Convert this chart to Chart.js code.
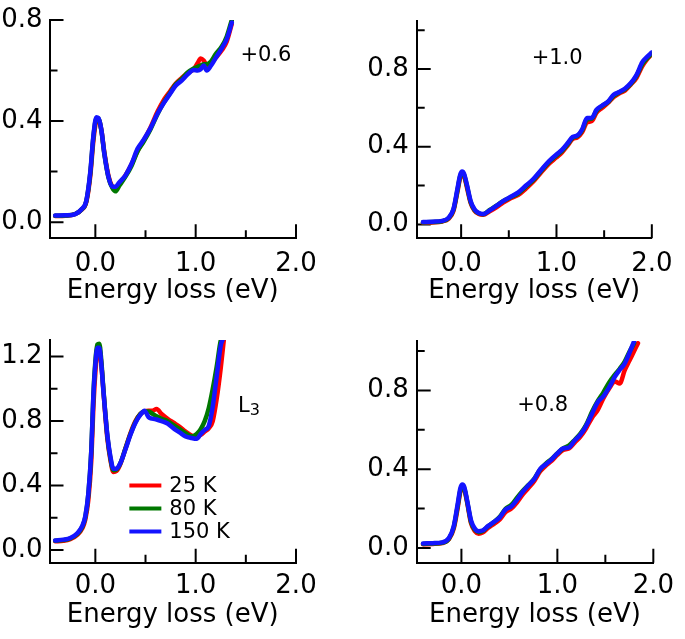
<!DOCTYPE html>
<html>
<head>
<meta charset="utf-8">
<title>RIXS low-energy spectra</title>
<script src="https://cdn.jsdelivr.net/npm/chart.js@4/dist/chart.umd.min.js"></script>
<style>
  html, body { margin: 0; padding: 0; background: #fff; }
  #wrap { position: relative; width: 685px; height: 639px; overflow: hidden; }
  #wrap canvas { position: absolute; }
</style>
</head>
<body>
<div id="wrap">
  <canvas id="c06" width="340" height="320" style="left:0;top:0"></canvas>
  <canvas id="c10" width="345" height="320" style="left:340px;top:0"></canvas>
  <canvas id="cL3" width="340" height="319" style="left:0;top:320px"></canvas>
  <canvas id="c08" width="345" height="319" style="left:340px;top:320px"></canvas>
</div>
<script>
// ---- data ----
const tempLabels = ['25 K', '80 K', '150 K'];
const xMajor = [0, 1, 2];
const xMinor = [0.5, 1.5];

// +0.6 panel
const eP06 = [-0.40,-0.30,-0.20,-0.14,-0.09,-0.05,-0.02,0.01,0.03,0.06,0.09,0.13,0.17,0.20,0.24,0.30,0.36,0.42,0.48,0.55,0.62,0.68,0.74,0.80,0.86,0.92,0.98,1.02,1.05,1.08,1.11,1.15,1.20,1.26,1.31,1.36];
const p06_25K = [0.024,0.025,0.032,0.048,0.080,0.185,0.320,0.400,0.405,0.365,0.275,0.185,0.138,0.128,0.150,0.185,0.228,0.282,0.322,0.375,0.438,0.482,0.515,0.548,0.570,0.590,0.605,0.630,0.648,0.640,0.622,0.628,0.650,0.680,0.715,0.785];
const p06_80K = [0.025,0.026,0.032,0.049,0.083,0.195,0.335,0.410,0.410,0.362,0.270,0.178,0.135,0.122,0.145,0.180,0.222,0.280,0.318,0.368,0.428,0.472,0.508,0.545,0.566,0.592,0.608,0.615,0.620,0.625,0.625,0.635,0.665,0.695,0.735,0.800];
const p06_150K = [0.026,0.027,0.032,0.050,0.085,0.200,0.340,0.415,0.412,0.365,0.270,0.180,0.140,0.140,0.158,0.185,0.230,0.290,0.325,0.372,0.430,0.470,0.505,0.540,0.560,0.585,0.602,0.600,0.605,0.620,0.600,0.618,0.650,0.688,0.725,0.790];

// +1.0 panel
const eP10 = [-0.40,-0.30,-0.20,-0.13,-0.08,-0.04,-0.01,0.01,0.03,0.06,0.10,0.14,0.18,0.23,0.30,0.37,0.44,0.52,0.60,0.68,0.76,0.84,0.92,1.00,1.06,1.12,1.17,1.22,1.27,1.32,1.37,1.42,1.48,1.54,1.60,1.66,1.72,1.78,1.84,1.90,1.95,2.00];
const p10_25K = [0.008,0.010,0.015,0.030,0.070,0.165,0.240,0.258,0.250,0.192,0.110,0.070,0.055,0.050,0.068,0.088,0.112,0.135,0.152,0.185,0.222,0.268,0.312,0.345,0.372,0.408,0.440,0.448,0.475,0.525,0.532,0.575,0.600,0.625,0.655,0.675,0.690,0.720,0.755,0.815,0.850,0.875];
const p10_80K = [0.010,0.012,0.016,0.033,0.076,0.172,0.248,0.265,0.256,0.200,0.115,0.074,0.058,0.052,0.074,0.096,0.120,0.140,0.160,0.195,0.230,0.276,0.320,0.355,0.380,0.415,0.446,0.455,0.485,0.540,0.545,0.585,0.610,0.630,0.662,0.680,0.696,0.724,0.765,0.825,0.855,0.880];
const p10_150K = [0.012,0.014,0.018,0.035,0.080,0.180,0.255,0.272,0.262,0.205,0.120,0.078,0.060,0.053,0.072,0.095,0.120,0.142,0.165,0.200,0.235,0.280,0.325,0.360,0.385,0.420,0.450,0.458,0.490,0.548,0.548,0.590,0.612,0.632,0.668,0.682,0.700,0.728,0.770,0.835,0.862,0.885];

// L3 panel
const eL3 = [-0.40,-0.32,-0.25,-0.18,-0.13,-0.10,-0.07,-0.04,-0.02,0.00,0.02,0.04,0.06,0.08,0.10,0.12,0.15,0.18,0.21,0.25,0.30,0.35,0.40,0.45,0.49,0.53,0.57,0.61,0.66,0.72,0.78,0.84,0.90,0.96,1.01,1.05,1.09,1.13,1.17,1.21,1.25,1.28];
const l3_25K = [0.055,0.058,0.068,0.095,0.135,0.190,0.310,0.560,0.880,1.100,1.225,1.240,1.150,0.990,0.830,0.690,0.560,0.485,0.490,0.535,0.630,0.725,0.800,0.845,0.860,0.865,0.865,0.875,0.845,0.815,0.790,0.765,0.735,0.710,0.705,0.715,0.735,0.755,0.800,0.940,1.130,1.300];
const l3_80K = [0.058,0.062,0.072,0.100,0.145,0.205,0.345,0.620,0.960,1.170,1.275,1.280,1.170,1.000,0.845,0.705,0.570,0.495,0.500,0.540,0.630,0.720,0.795,0.845,0.860,0.860,0.845,0.830,0.815,0.800,0.775,0.750,0.725,0.705,0.720,0.750,0.800,0.880,1.000,1.140,1.300,1.340];
const l3_150K = [0.060,0.065,0.075,0.105,0.150,0.210,0.350,0.620,0.950,1.150,1.255,1.255,1.150,0.990,0.840,0.710,0.580,0.505,0.505,0.540,0.625,0.715,0.790,0.840,0.865,0.825,0.815,0.810,0.800,0.785,0.755,0.730,0.705,0.695,0.690,0.720,0.745,0.770,0.890,1.080,1.270,1.320];

// +0.8 panel
const eP08 = [-0.40,-0.30,-0.20,-0.13,-0.08,-0.04,-0.01,0.01,0.03,0.06,0.10,0.14,0.18,0.22,0.28,0.34,0.40,0.46,0.52,0.58,0.64,0.70,0.76,0.82,0.88,0.94,1.00,1.06,1.12,1.18,1.24,1.30,1.36,1.42,1.48,1.54,1.60,1.65,1.70,1.75,1.80,1.84];
const p08_25K = [0.018,0.020,0.024,0.044,0.098,0.200,0.288,0.308,0.298,0.230,0.125,0.085,0.072,0.078,0.102,0.122,0.145,0.182,0.200,0.232,0.272,0.305,0.340,0.388,0.418,0.442,0.472,0.498,0.505,0.535,0.565,0.608,0.660,0.700,0.760,0.810,0.845,0.835,0.900,0.950,1.000,1.040];
const p08_80K = [0.020,0.022,0.026,0.047,0.105,0.210,0.295,0.312,0.302,0.235,0.132,0.092,0.080,0.085,0.110,0.132,0.158,0.198,0.218,0.255,0.290,0.320,0.352,0.398,0.428,0.452,0.480,0.505,0.520,0.548,0.580,0.625,0.690,0.745,0.790,0.840,0.880,0.910,0.945,0.995,1.040,null];
const p08_150K = [0.022,0.024,0.028,0.050,0.110,0.220,0.305,0.322,0.310,0.240,0.140,0.098,0.085,0.088,0.112,0.132,0.155,0.195,0.210,0.245,0.285,0.318,0.350,0.400,0.425,0.450,0.480,0.505,0.510,0.545,0.575,0.620,0.680,0.740,0.770,0.815,0.870,0.905,0.935,0.990,1.050,null];

// ---- styles ----
const FONT = '"DejaVu Sans", "Liberation Sans", sans-serif';
const INK = '#000';
const COLORS = ['rgb(255,0,0)', 'rgb(0,120,0)', 'rgb(20,20,255)'];

// inward tick marks, like the original plotting program
const inTicks = {
  id: 'inTicks',
  beforeDatasetsDraw(chart, args, opts) {
    const { ctx, chartArea: a, scales: { x, y } } = chart;
    ctx.save();
    ctx.strokeStyle = INK;
    ctx.lineWidth = 2;
    ctx.beginPath();
    const onX = (vals, len) => vals.forEach(v => {
      const px = x.getPixelForValue(v);
      ctx.moveTo(px, a.bottom); ctx.lineTo(px, a.bottom - len);
    });
    const onY = (vals, len) => vals.forEach(v => {
      const py = y.getPixelForValue(v);
      ctx.moveTo(a.left, py); ctx.lineTo(a.left + len, py);
    });
    onX(x.ticks.map(t => t.value), 14);
    onX(opts.xMinor || [], 8);
    onY(y.ticks.map(t => t.value), 14);
    onY(opts.yMinor || [], 8);
    ctx.stroke();
    ctx.restore();
  }
};

// panel labels (+0.6, L3 ...)
const notes = {
  id: 'notes',
  afterDatasetsDraw(chart, args, opts) {
    const { ctx, scales: { x, y } } = chart;
    (opts.items || []).forEach(n => {
      const px = x.getPixelForValue(n.x);
      const py = y.getPixelForValue(n.y);
      ctx.save();
      ctx.fillStyle = INK;
      ctx.textBaseline = 'alphabetic';
      ctx.textAlign = n.align || 'center';
      ctx.font = `${n.size}px ${FONT}`;
      ctx.fillText(n.text, px, py);
      if (n.sub) {
        const w = ctx.measureText(n.text).width;
        ctx.font = `${n.subSize}px ${FONT}`;
        ctx.textAlign = 'left';
        ctx.fillText(n.sub, px + w, py + n.subDrop);
      }
      ctx.restore();
    });
  }
};

// line legend drawn inside the L3 panel
const lineKey = {
  id: 'lineKey',
  afterDatasetsDraw(chart, args, opts) {
    if (!opts.show) return;
    const { ctx, scales: { x, y } } = chart;
    const x0 = x.getPixelForValue(opts.x);
    const y0 = y.getPixelForValue(opts.y);
    chart.data.datasets.forEach((ds, i) => {
      const yy = y0 + i * opts.gap;
      ctx.save();
      ctx.strokeStyle = ds.borderColor;
      ctx.lineWidth = 4;
      ctx.beginPath();
      ctx.moveTo(x0, yy); ctx.lineTo(x0 + opts.len, yy);
      ctx.stroke();
      ctx.fillStyle = INK;
      ctx.font = `21px ${FONT}`;
      ctx.textAlign = 'left';
      ctx.textBaseline = 'middle';
      ctx.fillText(ds.label, x0 + opts.len + 8, yy + 1);
      ctx.restore();
    });
  }
};

function makePanel (p) {
  const datasets = p.series.map((ys, i) => ({
    label: tempLabels[i],
    data: p.energy.map((e, j) => ({ x: e, y: ys[j] })).filter(d => d.y !== null),
    borderColor: COLORS[i],
    borderWidth: 4.5,
    pointRadius: 0,
    fill: false,
    order: p.series.length - i, // 150 K on top
    cubicInterpolationMode: 'monotone',
    borderCapStyle: 'round',
    borderJoinStyle: 'round'
  }));

  return new Chart(document.getElementById(p.id), {
    type: 'line',
    data: { datasets },
    plugins: [inTicks, notes, lineKey],
    options: {
      responsive: false,
      animation: false,
      events: [],
      layout: { padding: { left: 0, top: p.top, right: p.right, bottom: 0 } },
      scales: {
        x: {
          type: 'linear',
          min: p.xMin,
          max: 2.0,
          grid: { display: false, drawTicks: false },
          border: { display: true, color: INK, width: 2 },
          ticks: {
            autoSkip: false, maxRotation: 0, color: INK, padding: p.tickPad,
            font: { family: FONT, size: 26, lineHeight: 1 },
            callback: v => v.toFixed(1)
          },
          afterBuildTicks: s => { s.ticks = xMajor.map(v => ({ value: v })); },
          afterFit: s => { s.height = p.axisH; },
          title: {
            display: true, text: 'Energy loss (eV)', color: INK,
            font: { family: FONT, size: 26, lineHeight: 1 },
            padding: { top: 0, bottom: p.titlePad }
          }
        },
        y: {
          type: 'linear',
          min: p.yMin,
          max: p.yMax,
          grid: { display: false, drawTicks: false },
          border: { display: true, color: INK, width: 2 },
          ticks: {
            autoSkip: false, color: INK, padding: p.yPad,
            font: { family: FONT, size: 26, lineHeight: 1 },
            callback: v => v.toFixed(1)
          },
          afterBuildTicks: s => { s.ticks = p.yMajor.map(v => ({ value: v })); },
          afterFit: s => { s.width = p.axisW; }
        }
      },
      plugins: {
        legend: { display: false },
        tooltip: { enabled: false },
        inTicks: { xMinor, yMinor: p.yMinor },
        notes: { items: p.notes },
        lineKey: p.key || { show: false }
      }
    }
  });
}

makePanel({
  id: 'c06', energy: eP06, series: [p06_25K, p06_80K, p06_150K],
  xMin: -0.457, yMin: -0.064, yMax: 0.8,
  yMajor: [0, 0.4, 0.8], yMinor: [0.2, 0.6],
  axisW: 49.5, axisH: 81.7, top: 15, right: 44, tickPad: 12.5, titlePad: 15.5, yPad: 7,
  notes: [{ text: '+0.6', x: 1.70, y: 0.639, size: 21 }]
});

makePanel({
  id: 'c10', energy: eP10, series: [p10_25K, p10_80K, p10_150K],
  xMin: -0.466, yMin: -0.0716, yMax: 1.047,
  yMajor: [0, 0.4, 0.8], yMinor: [0.2, 0.6, 1.0],
  axisW: 76.7, axisH: 81.7, top: 15, right: 21.7, tickPad: 12.5, titlePad: 15.5, yPad: 8,
  notes: [{ text: '+1.0', x: 1.007, y: 0.825, size: 21 }]
});

makePanel({
  id: 'cL3', energy: eL3, series: [l3_25K, l3_80K, l3_150K],
  xMin: -0.457, yMin: -0.078, yMax: 1.303,
  yMajor: [0, 0.4, 0.8, 1.2], yMinor: [0.2, 0.6, 1.0],
  axisW: 49.5, axisH: 76.3, top: 18.3, right: 44, tickPad: 11, titlePad: 11, yPad: 7,
  notes: [{ text: 'L', x: 1.422, y: 0.857, size: 21, align: 'left', sub: '3', subSize: 16, subDrop: 3 }],
  key: { show: true, x: 0.339, y: 0.40, gap: 23, len: 32 }
});

makePanel({
  id: 'c08', energy: eP08, series: [p08_25K, p08_80K, p08_150K],
  xMin: -0.466, yMin: -0.0753, yMax: 1.051,
  yMajor: [0, 0.4, 0.8], yMinor: [0.2, 0.6, 1.0],
  axisW: 76.7, axisH: 76.3, top: 18.3, right: 21.7, tickPad: 11, titlePad: 11, yPad: 8,
  notes: [{ text: '+0.8', x: 0.847, y: 0.695, size: 21 }]
});
</script>
</body>
</html>
